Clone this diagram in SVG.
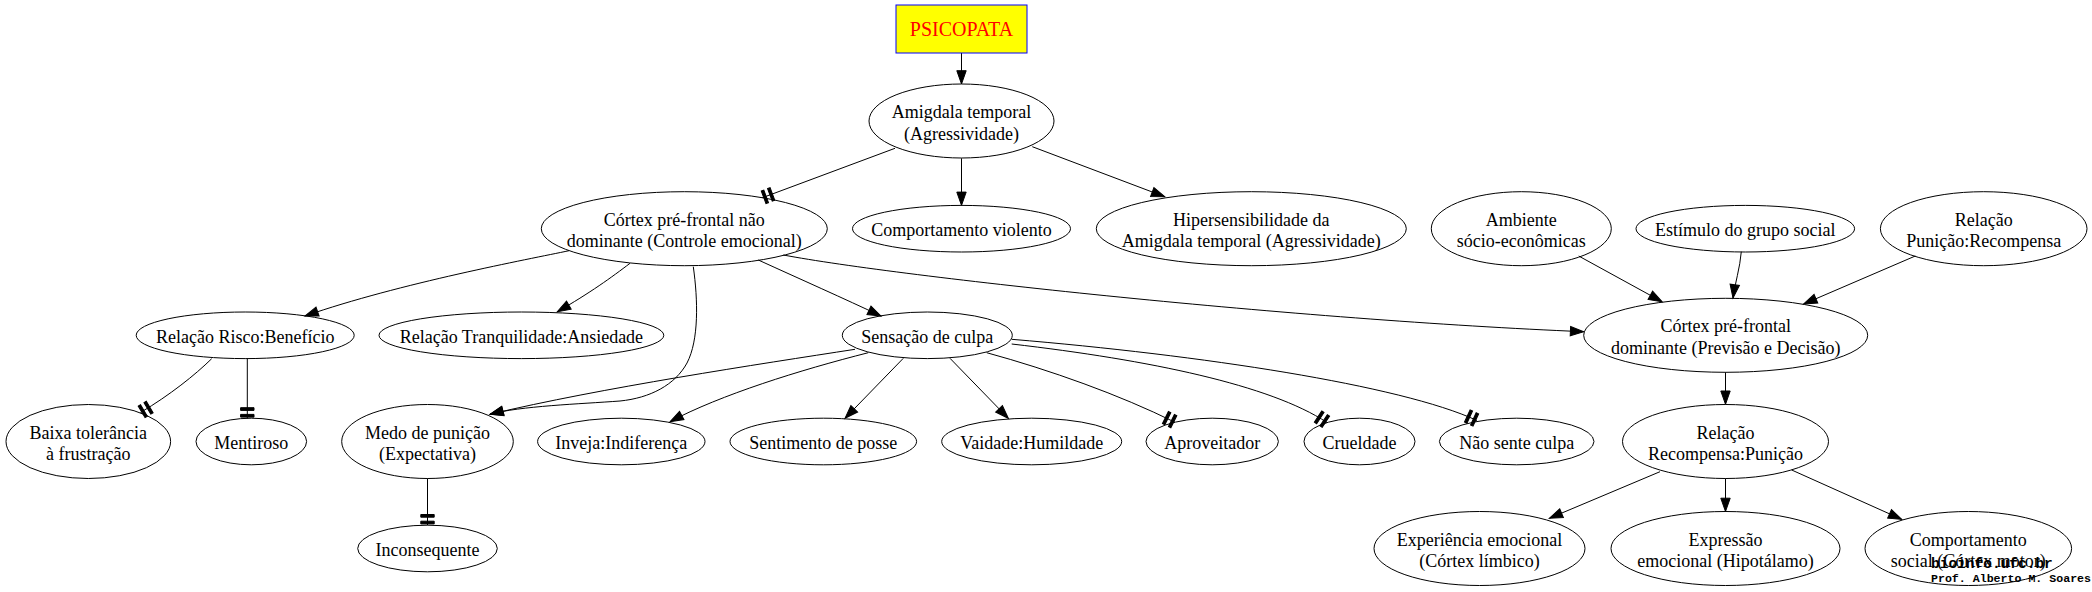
<svg xmlns="http://www.w3.org/2000/svg" width="2092" height="592" viewBox="0 0 2092 592">
<style>
  .n ellipse { fill: none; stroke: #000; stroke-width: 1; }
  .n text { font-family: "Liberation Serif", "Times New Roman", serif; font-size: 18px; fill: #000; text-anchor: middle; }
  #edges path { fill: none; stroke: #000; stroke-width: 1; }
  .a { marker-end: url(#arr); }
  .t { marker-end: url(#tee); }
  .foot { font-family: "Liberation Mono", "DejaVu Sans Mono", monospace; font-weight: bold; fill: #000; }
</style>
<defs>
  <marker id="arr" markerUnits="userSpaceOnUse" markerWidth="16" markerHeight="12" viewBox="-14 -6 16 12" refX="0" refY="0" orient="auto" overflow="visible">
    <path d="M0,0 L-13.3,-4.7 L-13.3,4.7 Z" fill="#000" stroke="#000" stroke-width="1"/>
  </marker>
  <marker id="tee" markerUnits="userSpaceOnUse" markerWidth="16" markerHeight="16" viewBox="-14 -8 16 16" refX="0" refY="0" orient="auto" overflow="visible">
    <rect x="-4" y="-6.7" width="2.7" height="13.4" fill="#000" stroke="#000" stroke-width="1"/>
    <rect x="-10.7" y="-6.7" width="2.7" height="13.4" fill="#000" stroke="#000" stroke-width="1"/>
  </marker>
</defs>
<rect width="2092" height="592" fill="#fff"/>

<g id="edges">
  <path class="a" d="M961.5,53 L961.5,84"/>
  <path class="t" d="M895,148.3 L762.4,197.7"/>
  <path class="a" d="M961.5,158.3 L961.5,205.4"/>
  <path class="a" d="M1032.3,146.7 L1164.7,196.7"/>
  <path class="a" d="M569,250.7 C530,259 400,283 305,316"/>
  <path class="a" d="M630,263.3 C612,277 590,293 557.3,311.7"/>
  <path class="a" d="M693.3,266.7 C698,300 699,340 687,363 C675,385 650,398 620,401 C580,404 520,406 490,414.3"/>
  <path class="a" d="M758.3,260 C800,279 845,299 881,316"/>
  <path class="a" d="M783.3,255 C900,277 1300,320 1583.7,331.7"/>
  <path class="a" d="M903.3,358.3 L845,418.3"/>
  <path class="a" d="M950,358.3 L1008.3,418.3"/>
  <path class="a" d="M868.3,352.7 C800,370 720,395 670,421.7"/>
  <path class="a" d="M855,349.3 C760,364 600,388 490,414.3"/>
  <path class="t" d="M986.7,352.7 C1050,370 1120,395 1175,422.3"/>
  <path class="t" d="M1011.7,344 C1150,360 1270,385 1327,422.5"/>
  <path class="t" d="M1011.7,339.3 C1200,355 1400,385 1477,420.5"/>
  <path class="t" d="M211.7,358.7 C195,375 170,395 140.5,412.5"/>
  <path class="t" d="M247.3,358.7 L247.3,418.4"/>
  <path class="t" d="M427.5,478.5 L427.5,525.2"/>
  <path class="a" d="M1578.7,256 L1662,301.7"/>
  <path class="a" d="M1741.3,251.7 C1740,268 1735,283 1733,298"/>
  <path class="a" d="M1915.3,256 L1803.7,304"/>
  <path class="a" d="M1725.5,372.3 L1725.5,404.3"/>
  <path class="a" d="M1660,471.7 L1549.3,518.3"/>
  <path class="a" d="M1725.5,478.5 L1725.5,511.5"/>
  <path class="a" d="M1791.7,470 L1901.7,519.3"/>
</g>

<g id="psicopata" class="n">
  <rect x="896" y="5" width="131" height="48" fill="#ffff00" stroke="#0000ff" stroke-width="1"/>
  <text x="961.5" y="36" style="font-size:20px;fill:#ff0000">PSICOPATA</text>
</g>
<g id="amigdala" class="n">
  <ellipse cx="961.5" cy="121" rx="92.5" ry="37"/>
  <text x="961.5" y="118">Amigdala temporal</text>
  <text x="961.5" y="139.5">(Agressividade)</text>
</g>
<g id="cortex_nd" class="n">
  <ellipse cx="684.3" cy="228.7" rx="143" ry="37"/>
  <text x="684.3" y="225.7">Córtex pré-frontal não</text>
  <text x="684.3" y="247.2">dominante (Controle emocional)</text>
</g>
<g id="comp_violento" class="n">
  <ellipse cx="961.5" cy="228.7" rx="109" ry="23.3"/>
  <text x="961.5" y="236.2">Comportamento violento</text>
</g>
<g id="hiper" class="n">
  <ellipse cx="1251.3" cy="228.7" rx="155" ry="37"/>
  <text x="1251.3" y="225.7">Hipersensibilidade da</text>
  <text x="1251.3" y="247.2">Amigdala temporal (Agressividade)</text>
</g>
<g id="ambiente" class="n">
  <ellipse cx="1521.3" cy="228.7" rx="90" ry="37"/>
  <text x="1521.3" y="225.7">Ambiente</text>
  <text x="1521.3" y="247.2">sócio-econômicas</text>
</g>
<g id="estimulo" class="n">
  <ellipse cx="1745.3" cy="228.7" rx="109.3" ry="23.3"/>
  <text x="1745.3" y="236.2">Estímulo do grupo social</text>
</g>
<g id="rel_pun_rec" class="n">
  <ellipse cx="1983.7" cy="228.7" rx="103.3" ry="37"/>
  <text x="1983.7" y="225.7">Relação</text>
  <text x="1983.7" y="247.2">Punição:Recompensa</text>
</g>
<g id="rel_risco" class="n">
  <ellipse cx="245.2" cy="335.3" rx="109" ry="23.3"/>
  <text x="245.2" y="342.8">Relação Risco:Benefício</text>
</g>
<g id="rel_tranq" class="n">
  <ellipse cx="521.4" cy="335.3" rx="142.4" ry="23.3"/>
  <text x="521.4" y="342.8">Relação Tranquilidade:Ansiedade</text>
</g>
<g id="sensacao" class="n">
  <ellipse cx="927.3" cy="335.3" rx="85" ry="23.3"/>
  <text x="927.3" y="342.8">Sensação de culpa</text>
</g>
<g id="cortex_d" class="n">
  <ellipse cx="1725.7" cy="335.3" rx="142" ry="37"/>
  <text x="1725.7" y="332.3">Córtex pré-frontal</text>
  <text x="1725.7" y="353.8">dominante (Previsão e Decisão)</text>
</g>
<g id="baixa" class="n">
  <ellipse cx="88.3" cy="441.5" rx="82.3" ry="37"/>
  <text x="88.3" y="438.5">Baixa tolerância</text>
  <text x="88.3" y="460">à frustração</text>
</g>
<g id="mentiroso" class="n">
  <ellipse cx="251.3" cy="441.5" rx="55.3" ry="23.3"/>
  <text x="251.3" y="449">Mentiroso</text>
</g>
<g id="medo" class="n">
  <ellipse cx="427.5" cy="441.5" rx="85.8" ry="37"/>
  <text x="427.5" y="438.5">Medo de punição</text>
  <text x="427.5" y="460">(Expectativa)</text>
</g>
<g id="inveja" class="n">
  <ellipse cx="621.3" cy="441.5" rx="83.7" ry="23.3"/>
  <text x="621.3" y="449">Inveja:Indiferença</text>
</g>
<g id="sentimento" class="n">
  <ellipse cx="823.3" cy="441.5" rx="93.3" ry="23.3"/>
  <text x="823.3" y="449">Sentimento de posse</text>
</g>
<g id="vaidade" class="n">
  <ellipse cx="1031.7" cy="441.5" rx="90" ry="23.3"/>
  <text x="1031.7" y="449">Vaidade:Humildade</text>
</g>
<g id="aproveitador" class="n">
  <ellipse cx="1212.2" cy="441.5" rx="66.2" ry="23.3"/>
  <text x="1212.2" y="449">Aproveitador</text>
</g>
<g id="crueldade" class="n">
  <ellipse cx="1359.5" cy="441.5" rx="55.5" ry="23.3"/>
  <text x="1359.5" y="449">Crueldade</text>
</g>
<g id="nao_sente" class="n">
  <ellipse cx="1516.7" cy="441.5" rx="77.3" ry="23.3"/>
  <text x="1516.7" y="449">Não sente culpa</text>
</g>
<g id="rel_rec_pun" class="n">
  <ellipse cx="1725.5" cy="441.5" rx="103" ry="37"/>
  <text x="1725.5" y="438.5">Relação</text>
  <text x="1725.5" y="460">Recompensa:Punição</text>
</g>
<g id="inconsequente" class="n">
  <ellipse cx="427.5" cy="548.5" rx="69.8" ry="23.3"/>
  <text x="427.5" y="556">Inconsequente</text>
</g>
<g id="experiencia" class="n">
  <ellipse cx="1479.5" cy="548.5" rx="105.5" ry="37"/>
  <text x="1479.5" y="545.5">Experiência emocional</text>
  <text x="1479.5" y="567">(Córtex límbico)</text>
</g>
<g id="expressao" class="n">
  <ellipse cx="1725.5" cy="548.5" rx="114.5" ry="37"/>
  <text x="1725.5" y="545.5">Expressão</text>
  <text x="1725.5" y="567">emocional (Hipotálamo)</text>
</g>
<g id="comp_social" class="n">
  <ellipse cx="1968.3" cy="548.5" rx="103.3" ry="37"/>
  <text x="1968.3" y="545.5">Comportamento</text>
  <text x="1968.3" y="567">social (Córtex motor)</text>
</g>

<g id="footer">
  <text class="foot" x="1931" y="568" style="font-size:14.5px">bioinfo.ufc.br</text>
  <text class="foot" x="1931" y="582" style="font-size:11.6px">Prof. Alberto M. Soares</text>
</g>
</svg>
